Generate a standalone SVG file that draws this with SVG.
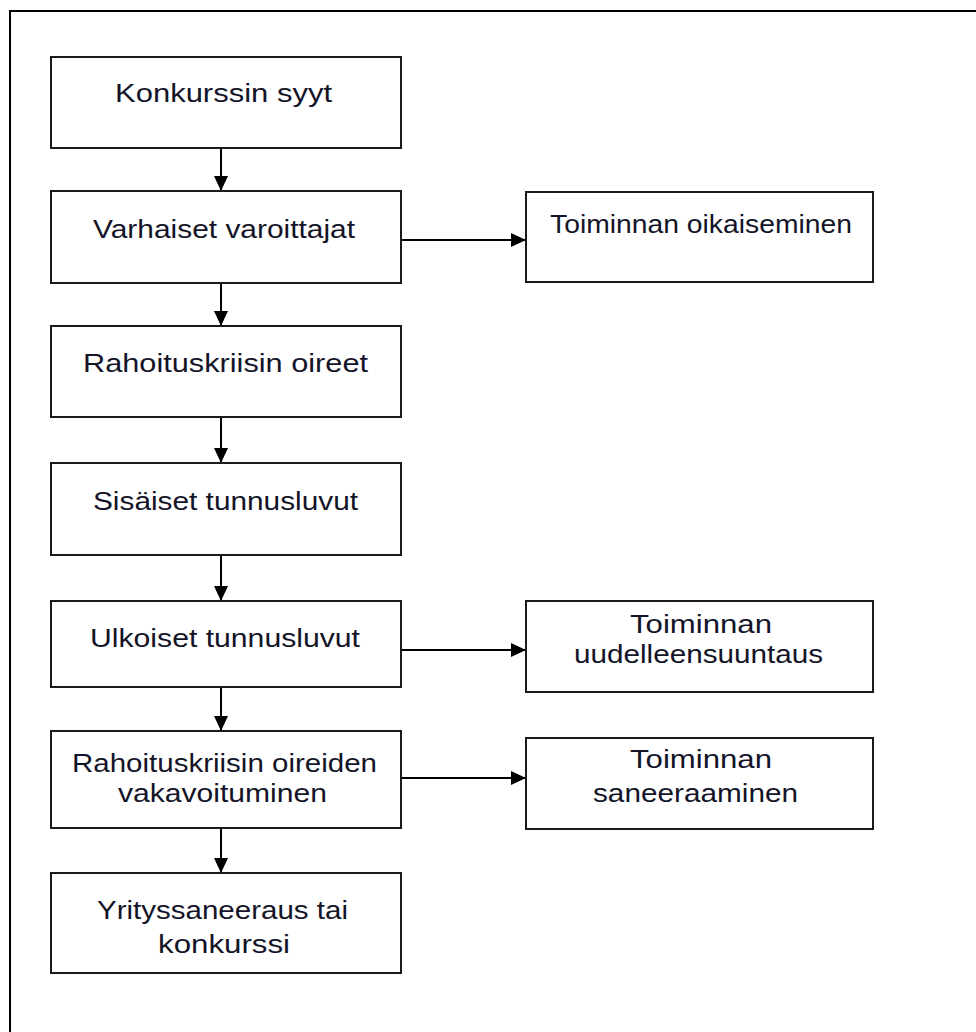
<svg xmlns="http://www.w3.org/2000/svg" width="976" height="1032" viewBox="0 0 976 1032">
<style>
.box{fill:#fff;stroke:#1a1a1a;stroke-width:2}
.lbl{font-family:"Liberation Sans",Arial,sans-serif;font-size:25px;fill:#141428}
.con{stroke:#000;stroke-width:2;fill:none}
</style>
<defs>
<marker id="ah" markerWidth="15" markerHeight="14" refX="15" refY="7" orient="auto" markerUnits="userSpaceOnUse">
<path d="M0,0 L15,7 L0,14 Z" fill="#000"/>
</marker>
</defs>
<rect width="976" height="1032" fill="#fff"/>
<rect x="10" y="11" width="1000" height="1060" fill="none" stroke="#000" stroke-width="2"/>
<g id="connectors">
<line class="con" x1="221" y1="148" x2="221" y2="191" marker-end="url(#ah)"/>
<line class="con" x1="221" y1="283" x2="221" y2="326" marker-end="url(#ah)"/>
<line class="con" x1="221" y1="417" x2="221" y2="463" marker-end="url(#ah)"/>
<line class="con" x1="221" y1="555" x2="221" y2="601" marker-end="url(#ah)"/>
<line class="con" x1="221" y1="687" x2="221" y2="731" marker-end="url(#ah)"/>
<line class="con" x1="221" y1="828" x2="221" y2="873" marker-end="url(#ah)"/>
<line class="con" x1="401" y1="240" x2="526" y2="240" marker-end="url(#ah)"/>
<line class="con" x1="401" y1="650" x2="526" y2="650" marker-end="url(#ah)"/>
<line class="con" x1="401" y1="778" x2="526" y2="778" marker-end="url(#ah)"/>
</g>
<g id="n1"><rect class="box" x="51" y="57" width="350" height="91"/>
<text class="lbl" x="115" y="102" textLength="217" lengthAdjust="spacingAndGlyphs">Konkurssin syyt</text></g>
<g id="n2"><rect class="box" x="51" y="191" width="350" height="92"/>
<text class="lbl" x="93" y="238" textLength="262" lengthAdjust="spacingAndGlyphs">Varhaiset varoittajat</text></g>
<g id="n3"><rect class="box" x="526" y="192" width="347" height="90"/>
<text class="lbl" x="550" y="233" textLength="302" lengthAdjust="spacingAndGlyphs">Toiminnan oikaiseminen</text></g>
<g id="n4"><rect class="box" x="51" y="326" width="350" height="91"/>
<text class="lbl" x="83" y="372" textLength="285" lengthAdjust="spacingAndGlyphs">Rahoituskriisin oireet</text></g>
<g id="n5"><rect class="box" x="51" y="463" width="350" height="92"/>
<text class="lbl" x="93" y="510" textLength="265" lengthAdjust="spacingAndGlyphs">Sisäiset tunnusluvut</text></g>
<g id="n6"><rect class="box" x="51" y="601" width="350" height="86"/>
<text class="lbl" x="90" y="647" textLength="270" lengthAdjust="spacingAndGlyphs">Ulkoiset tunnusluvut</text></g>
<g id="n7"><rect class="box" x="526" y="601" width="347" height="91"/>
<text class="lbl" x="630" y="633" textLength="142" lengthAdjust="spacingAndGlyphs">Toiminnan</text>
<text class="lbl" x="574" y="663" textLength="249" lengthAdjust="spacingAndGlyphs">uudelleensuuntaus</text></g>
<g id="n8"><rect class="box" x="51" y="731" width="350" height="97"/>
<text class="lbl" x="72" y="772" textLength="305" lengthAdjust="spacingAndGlyphs">Rahoituskriisin oireiden</text>
<text class="lbl" x="118" y="802" textLength="209" lengthAdjust="spacingAndGlyphs">vakavoituminen</text></g>
<g id="n9"><rect class="box" x="526" y="738" width="347" height="91"/>
<text class="lbl" x="630" y="768" textLength="142" lengthAdjust="spacingAndGlyphs">Toiminnan</text>
<text class="lbl" x="593" y="802" textLength="205" lengthAdjust="spacingAndGlyphs">saneeraaminen</text></g>
<g id="n10"><rect class="box" x="51" y="873" width="350" height="100"/>
<text class="lbl" x="97" y="919" textLength="251" lengthAdjust="spacingAndGlyphs">Yrityssaneeraus tai</text>
<text class="lbl" x="158" y="953" textLength="132" lengthAdjust="spacingAndGlyphs">konkurssi</text></g>
</svg>
